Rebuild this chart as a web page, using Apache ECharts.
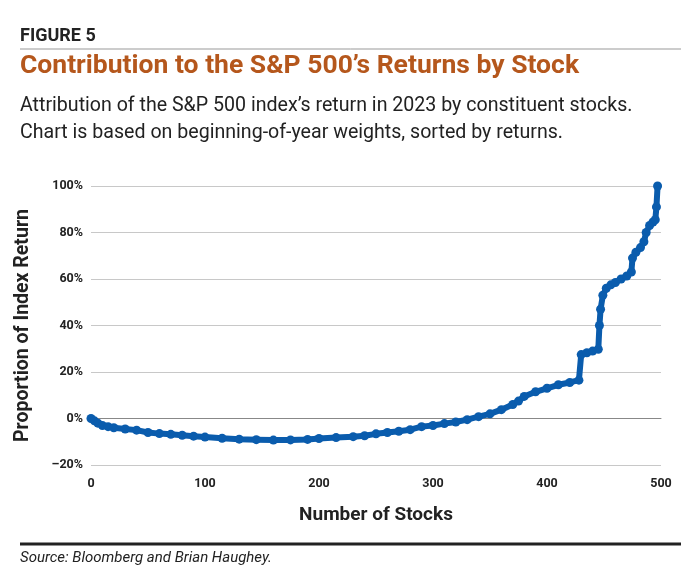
<!DOCTYPE html>
<html><head><meta charset="utf-8">
<script src="https://cdn.jsdelivr.net/npm/echarts@6/dist/echarts.min.js"></script>
<style>body{margin:0}#c{width:700px;height:586px}</style></head>
<body><div id="c"></div>
<script>
const stocks = [0,3,6,10,15,20,30,40,50,60,70,80,90,100,115,130,145,160,175,190,200,215,230,240,250,260,270,280,290,300,310,320,330,340,350,360,370,375,380,390,400,410,420,428,430,435,440,445,446,447,449,452,456,460,465,470,474,475,478,482,485,487,490,493,495,496,497];
const values = [0,-1,-2,-3,-3.5,-4,-4.5,-5,-6,-6.5,-6.8,-7.2,-7.6,-8,-8.5,-8.9,-9.1,-9.3,-9.2,-9,-8.6,-8.2,-7.8,-7.4,-6.6,-6,-5.5,-4.8,-3.5,-3,-2.2,-1.5,-0.5,0.8,2,3.8,6,7.5,9.5,11.5,13,14.5,15.5,16.5,27.5,28.3,29,29.8,40,47,53,56,57.5,58.5,60,61.3,63,69,71.5,73.5,76,80,83,84.5,85.5,91,100];
const xTicks = [0,100,200,300,400,500];
const yTicks = [-20,0,20,40,60,80,100];
const data = stocks.map((s,i)=>[s,values[i]]);
const ch = echarts.init(document.getElementById('c'));
const F='Roboto, "Liberation Sans", sans-serif';
ch.setOption({
  animation:false,
  graphic:[
    {type:'text',left:20,top:27,style:{text:'FIGURE 5',font:'bold 18px '+F,fill:'#222'}},
    {type:'line',shape:{x1:20,y1:49,x2:681,y2:49},style:{stroke:'#999',lineWidth:1}},
    {type:'text',left:20,top:53,style:{text:'Contribution to the S&P 500’s Returns by Stock',font:'bold 26.5px '+F,fill:'#b5571c'}},
    {type:'text',left:20,top:93,style:{text:'Attribution of the S&P 500 index’s return in 2023 by constituent stocks.\nChart is based on beginning-of-year weights, sorted by returns.',font:'19.6px '+F,fill:'#222',lineHeight:27}},
    {type:'line',shape:{x1:20,y1:544,x2:681,y2:544},style:{stroke:'#222',lineWidth:3}},
    {type:'text',left:20,top:551,style:{text:'Source: Bloomberg and Brian Haughey.',font:'italic 15px '+F,fill:'#222'}}
  ],
  grid:{left:91,right:39,top:186,bottom:121},
  xAxis:{type:'value',min:0,max:500,interval:100,name:'Number of Stocks',nameLocation:'middle',nameGap:41,
    nameTextStyle:{fontFamily:F,fontWeight:'bold',fontSize:19,color:'#222'},
    axisLine:{lineStyle:{color:'#888'}},axisTick:{show:false},splitLine:{show:false},
    axisLabel:{fontFamily:F,fontWeight:'bold',fontSize:12.5,color:'#222',margin:12}},
  yAxis:{type:'value',min:-20,max:100,interval:20,name:'Proportion of Index Return',nameLocation:'middle',nameGap:58,
    nameTextStyle:{fontFamily:F,fontWeight:'bold',fontSize:19.5,color:'#222'},
    axisLine:{show:false},axisTick:{show:false},
    splitLine:{lineStyle:{color:'#c8c8c8',width:1}},
    axisLabel:{fontFamily:F,fontWeight:'bold',fontSize:12.5,color:'#222',margin:8,formatter:v=>(v<0?'–':'')+Math.abs(v)+'%'}},
  series:[{type:'line',data:data,symbol:'circle',symbolSize:9,showAllSymbol:true,
    lineStyle:{color:'#0a5cad',width:6},itemStyle:{color:'#0a5cad'}}]
});
</script></body></html>
